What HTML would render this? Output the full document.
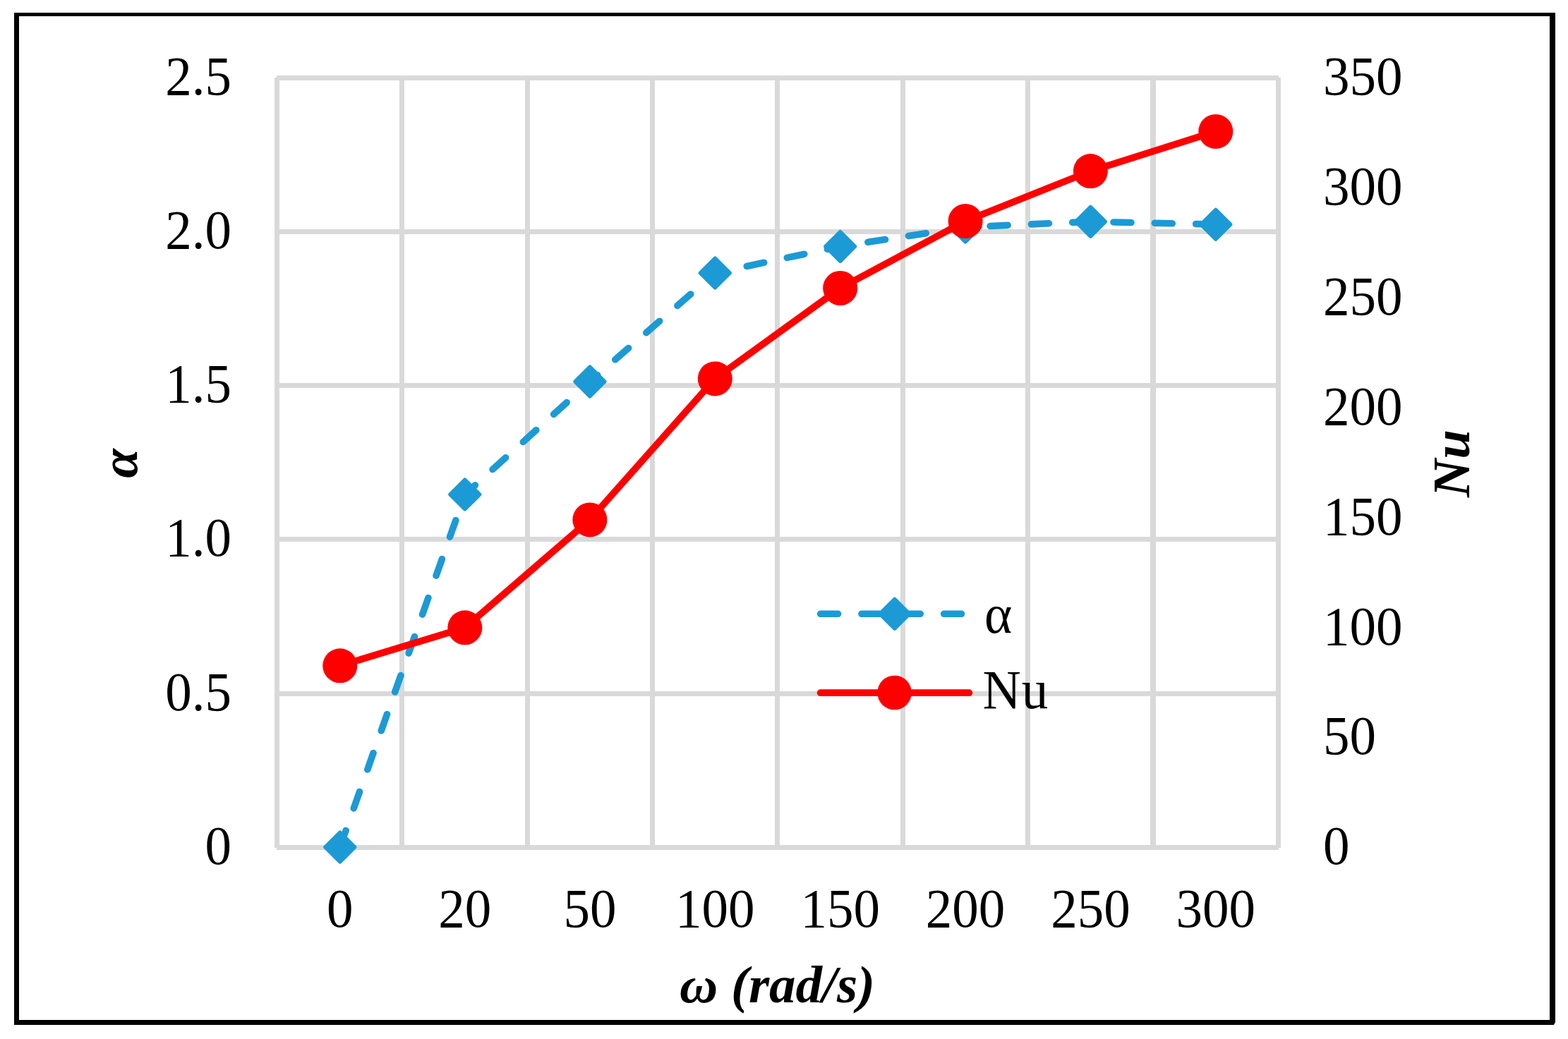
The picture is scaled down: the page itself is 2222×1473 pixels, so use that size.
<!DOCTYPE html>
<html lang="en"><head><meta charset="utf-8"><title>Chart</title>
<style>
html,body{margin:0;padding:0;background:#fff;}
body{width:2222px;height:1473px;overflow:hidden;}
svg{display:block;}
text{font-family:"Liberation Serif","Times New Roman",serif;font-size:75px;fill:#000;}
.t{font-weight:bold;font-style:italic;}
</style></head><body>
<svg width="2222" height="1473" viewBox="0 0 2222 1473">
<rect x="0" y="0" width="2222" height="1473" fill="#fff"/>
<g fill="#000" shape-rendering="crispEdges"><rect x="20" y="18" width="7" height="1435"/><rect x="20" y="18" width="2184" height="5"/><rect x="2196" y="18" width="8" height="1432"/><rect x="20" y="1446" width="2182" height="7"/><rect x="2196" y="1446" width="7" height="6"/></g>
<g fill="#d9d9d9" shape-rendering="crispEdges">
<rect x="392" y="107" width="1420" height="7"/>
<rect x="389" y="325" width="1426" height="7"/>
<rect x="389" y="543" width="1426" height="7"/>
<rect x="389" y="761" width="1426" height="7"/>
<rect x="389" y="980" width="1426" height="7"/>
<rect x="392" y="1198" width="1420" height="7"/>
<rect x="389" y="110" width="7" height="1092"/>
<rect x="566" y="107" width="7" height="1098"/>
<rect x="744" y="107" width="7" height="1098"/>
<rect x="921" y="107" width="7" height="1098"/>
<rect x="1098" y="107" width="7" height="1098"/>
<rect x="1276" y="107" width="7" height="1098"/>
<rect x="1453" y="107" width="7" height="1098"/>
<rect x="1630" y="107" width="8" height="1098"/>
<rect x="1808" y="110" width="7" height="1092"/>
</g>
<polyline points="481.8,1201.0 658.8,701.0 835.9,541.0 1013.3,387.0 1190.7,349.4 1368.1,322.0 1545.4,314.2 1722.8,318.2" fill="none" stroke="#1c9ad6" stroke-width="9.6" stroke-linecap="round" stroke-linejoin="round" stroke-dasharray="25 33.33"/>
<path d="M481.8 1180.2 L502.6 1201.0 L481.8 1221.8 L461.0 1201.0 Z" fill="#1c9ad6" stroke="#1c9ad6" stroke-width="5.5" stroke-linejoin="round"/>
<path d="M658.8 680.2 L679.6 701.0 L658.8 721.8 L638.0 701.0 Z" fill="#1c9ad6" stroke="#1c9ad6" stroke-width="5.5" stroke-linejoin="round"/>
<path d="M835.9 520.2 L856.7 541.0 L835.9 561.8 L815.1 541.0 Z" fill="#1c9ad6" stroke="#1c9ad6" stroke-width="5.5" stroke-linejoin="round"/>
<path d="M1013.3 366.2 L1034.1 387.0 L1013.3 407.8 L992.5 387.0 Z" fill="#1c9ad6" stroke="#1c9ad6" stroke-width="5.5" stroke-linejoin="round"/>
<path d="M1190.7 328.6 L1211.5 349.4 L1190.7 370.2 L1169.9 349.4 Z" fill="#1c9ad6" stroke="#1c9ad6" stroke-width="5.5" stroke-linejoin="round"/>
<path d="M1368.1 301.2 L1388.9 322.0 L1368.1 342.8 L1347.3 322.0 Z" fill="#1c9ad6" stroke="#1c9ad6" stroke-width="5.5" stroke-linejoin="round"/>
<path d="M1545.4 293.4 L1566.2 314.2 L1545.4 335.0 L1524.6 314.2 Z" fill="#1c9ad6" stroke="#1c9ad6" stroke-width="5.5" stroke-linejoin="round"/>
<path d="M1722.8 297.4 L1743.6 318.2 L1722.8 339.0 L1702.0 318.2 Z" fill="#1c9ad6" stroke="#1c9ad6" stroke-width="5.5" stroke-linejoin="round"/>
<polyline points="481.8,943.8 658.8,889.8 835.9,736.9 1013.3,536.9 1190.7,408.5 1368.1,313.5 1545.4,242.6 1722.8,186.4" fill="none" stroke="#ff0000" stroke-width="9.7" stroke-linecap="round" stroke-linejoin="round"/>
<circle cx="481.8" cy="943.8" r="24.5" fill="#ff0000"/>
<circle cx="658.8" cy="889.8" r="24.5" fill="#ff0000"/>
<circle cx="835.9" cy="736.9" r="24.5" fill="#ff0000"/>
<circle cx="1013.3" cy="536.9" r="24.5" fill="#ff0000"/>
<circle cx="1190.7" cy="408.5" r="24.5" fill="#ff0000"/>
<circle cx="1368.1" cy="313.5" r="24.5" fill="#ff0000"/>
<circle cx="1545.4" cy="242.6" r="24.5" fill="#ff0000"/>
<circle cx="1722.8" cy="186.4" r="24.5" fill="#ff0000"/>
<line x1="1162.6" y1="870.3" x2="1373.4" y2="870.3" stroke="#1c9ad6" stroke-width="9.6" stroke-linecap="round" stroke-dasharray="25 33.33"/>
<path d="M1267.8 849.4 L1288.6 870.2 L1267.8 891.0 L1247.0 870.2 Z" fill="#1c9ad6" stroke="#1c9ad6" stroke-width="5.5" stroke-linejoin="round"/>
<line x1="1162.6" y1="982.2" x2="1373.4" y2="982.2" stroke="#ff0000" stroke-width="9.7" stroke-linecap="round"/>
<circle cx="1267.6" cy="982" r="24.3" fill="#ff0000"/>
<text transform="translate(1395.0 896.8) scale(1 1.036)">α</text>
<text transform="translate(1392.5 1004.4) scale(1 1.036)" letter-spacing="1">Nu</text>
<text transform="translate(328.0 134.2) scale(1 1.036)" text-anchor="end">2.5</text>
<text transform="translate(328.0 352.2) scale(1 1.036)" text-anchor="end">2.0</text>
<text transform="translate(328.0 570.2) scale(1 1.036)" text-anchor="end">1.5</text>
<text transform="translate(328.0 788.2) scale(1 1.036)" text-anchor="end">1.0</text>
<text transform="translate(328.0 1007.2) scale(1 1.036)" text-anchor="end">0.5</text>
<text transform="translate(328.0 1225.2) scale(1 1.036)" text-anchor="end">0</text>
<text transform="translate(1875.0 134.2) scale(1 1.036)">350</text>
<text transform="translate(1875.0 290.1) scale(1 1.036)">300</text>
<text transform="translate(1875.0 445.9) scale(1 1.036)">250</text>
<text transform="translate(1875.0 601.8) scale(1 1.036)">200</text>
<text transform="translate(1875.0 757.6) scale(1 1.036)">150</text>
<text transform="translate(1875.0 913.5) scale(1 1.036)">100</text>
<text transform="translate(1875.0 1069.3) scale(1 1.036)">50</text>
<text transform="translate(1875.0 1225.2) scale(1 1.036)">0</text>
<text transform="translate(481.8 1313.7) scale(1 1.036)" text-anchor="middle">0</text>
<text transform="translate(658.8 1313.7) scale(1 1.036)" text-anchor="middle">20</text>
<text transform="translate(835.9 1313.7) scale(1 1.036)" text-anchor="middle">50</text>
<text transform="translate(1013.3 1313.7) scale(1 1.036)" text-anchor="middle">100</text>
<text transform="translate(1190.7 1313.7) scale(1 1.036)" text-anchor="middle">150</text>
<text transform="translate(1368.1 1313.7) scale(1 1.036)" text-anchor="middle">200</text>
<text transform="translate(1545.4 1313.7) scale(1 1.036)" text-anchor="middle">250</text>
<text transform="translate(1722.8 1313.7) scale(1 1.036)" text-anchor="middle">300</text>
<text class="t" x="1101.5" y="1421.4" text-anchor="middle">ω (rad/s)</text>
<text class="t" transform="translate(194.3 657) rotate(-90)" text-anchor="middle">α</text>
<text class="t" transform="translate(2082 657) rotate(-90)" text-anchor="middle">Nu</text>
</svg></body></html>
